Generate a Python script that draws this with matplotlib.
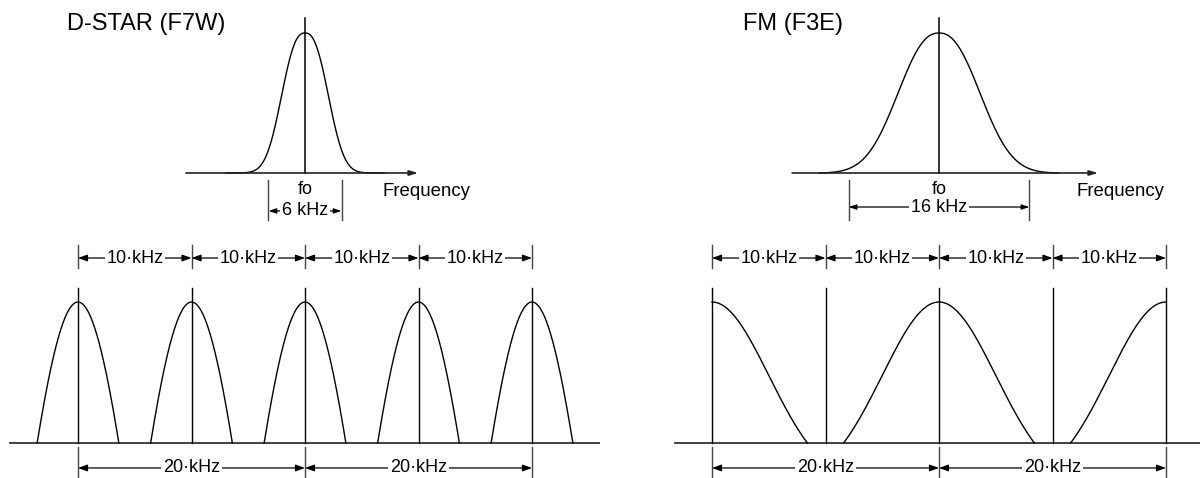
import matplotlib
matplotlib.use("Agg")
import matplotlib.pyplot as plt
import numpy as np

plt.rcParams['font.family'] = ['Liberation Sans', 'DejaVu Sans']

# --- data (kHz, relative amplitude) ---
titles = ["D-STAR (F7W)", "FM (F3E)"]
occupied_bw = [6, 16]            # kHz, top spectra
top_width = [2.37, 4.67]         # kHz, width parameter of top spectra
top_shape = [2.5, 2.3]           # exponent of top spectra (2 = gaussian)
top_extent = [6.5, 10.6]         # kHz, where the drawn curve stops
channel_marks = [-20, -10, 0, 10, 20]
dstar_channels = [-20, -10, 0, 10, 20]
fm_channels = [-20, 0, 20]
bottom_sigma = [5.3, 5.0]
bottom_cut = [3.6, 8.4]          # kHz from carrier where curve meets baseline
clip_to_plan = [False, True]
step_small = 10
step_large = 20
small_label = "10\u00b7kHz"
large_label = "20\u00b7kHz"
bw_labels = ["6 kHz", "16 kHz"]

W, H = 1200, 478
fig = plt.figure(figsize=(12, 4.78), dpi=100)


def panel(box, x0, sx, y0, sy):
    l, t, r, b = box
    ax = fig.add_axes([l / W, 1 - b / H, (r - l) / W, (b - t) / H])
    ax.set_xlim((l - x0) / sx, (r - x0) / sx)
    ax.set_ylim((y0 - b) / sy, (y0 - t) / sy)
    ax.axis('off')
    return ax


def dim(ax, x1, x2, y, label, fs=13, hl=0.55, hw=0.2):
    ax.annotate('', xy=(x2, y), xytext=(x1, y),
                arrowprops=dict(arrowstyle='<|-|>,head_length=%g,head_width=%g' % (hl, hw),
                                shrinkA=0, shrinkB=0, lw=0.9, color='k',
                                mutation_scale=10))
    ax.text((x1 + x2) / 2, y, label, ha='center', va='center', fontsize=fs,
            zorder=5, bbox=dict(fc='white', ec='none', pad=1.2))


def trunc_gauss(x, sigma, cut):
    g = np.exp(-x ** 2 / (2 * sigma ** 2))
    gc = np.exp(-cut ** 2 / (2 * sigma ** 2))
    return (g - gc) / (1 - gc)


def gen_gauss(x, a, p, cut):
    f = np.exp(-np.abs(x / a) ** p)
    fc = np.exp(-(cut / a) ** p)
    return (f - fc) / (1 - fc)


# --- top spectra ---
top_axes = [panel((0, 0, 600, 230), 305, 12.17, 173, 140),
            panel((600, 0, 1200, 230), 939, 11.3, 173, 140)]
base_ext = [(-9.78, 9.29), (-13.0, 14.07)]
freq_x = [6.4, 12.2]
arrow_y = [-0.271, -0.243]

for i, ax in enumerate(top_axes):
    x = np.linspace(-top_extent[i], top_extent[i], 500)
    ax.plot(x, gen_gauss(x, top_width[i], top_shape[i], top_extent[i]),
            color='k', lw=1)
    ax.annotate('', xy=(base_ext[i][1], 0), xytext=(base_ext[i][0], 0),
                arrowprops=dict(arrowstyle='-|>,head_length=0.5,head_width=0.15',
                                shrinkA=0, shrinkB=0, lw=1.2, color='#222',
                                mutation_scale=10))
    ax.plot([0, 0], [0, 1.107], color='k', lw=1.1)
    half = occupied_bw[i] / 2
    for s in (-half, half):
        ax.plot([s, s], [-0.05, -0.336], color='#444', lw=1)
    ax.text(0, -0.12, "fo", ha='center', va='center', fontsize=13)
    dim(ax, -half, half, arrow_y[i], bw_labels[i], fs=13, hl=0.45, hw=0.15)
    ax.text(freq_x[i], -0.13, "Frequency", ha='left', va='center', fontsize=13.4)

fig.text(67 / W, 1 - 30 / H, titles[0], fontsize=17, ha='left', va='baseline')
fig.text(743 / W, 1 - 30 / H, titles[1], fontsize=17, ha='left', va='baseline')

# --- bottom channel plans ---
bot_axes = [panel((0, 230, 600, 478), 305, 11.35, 443, 141),
            panel((600, 230, 1200, 478), 939, 11.35, 443, 141)]
bot_base = [(-26.0, 26.0), (-23.3, 23.0)]
carriers = [dstar_channels, fm_channels]
lo, hi = min(channel_marks), max(channel_marks)

for i, ax in enumerate(bot_axes):
    ax.plot(bot_base[i], [0, 0], color='#333', lw=1.3)
    for c in channel_marks:
        ax.plot([c, c], [0, 1.10], color='k', lw=1)
    for c in carriers[i]:
        x0, x1 = c - bottom_cut[i], c + bottom_cut[i]
        if clip_to_plan[i]:
            x0, x1 = max(x0, lo), min(x1, hi)
        x = np.linspace(x0, x1, 300)
        ax.plot(x, trunc_gauss(x - c, bottom_sigma[i], bottom_cut[i]), color='k', lw=1)
    # 10 kHz row
    for c in channel_marks:
        ax.plot([c, c], [1.241, 1.404], color='#444', lw=1)
    for a in channel_marks[:-1]:
        dim(ax, a, a + step_small, 1.312, small_label)
    # 20 kHz row
    big = channel_marks[::2]
    for c in big:
        ax.plot([c, c], [-0.028, -0.26], color='#444', lw=1)
    for a in big[:-1]:
        dim(ax, a, a + step_large, -0.177, large_label)

fig.savefig("out.png", dpi=100, facecolor='white')
